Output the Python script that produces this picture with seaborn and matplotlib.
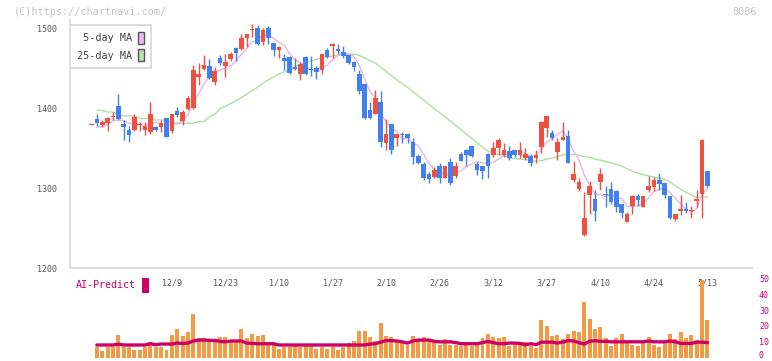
import numpy as np
import pandas as pd
import matplotlib
matplotlib.use("Agg")
import matplotlib.pyplot as plt
import matplotlib.transforms as mtransforms
from matplotlib.patches import Patch, Rectangle
import seaborn as sns

# ---------------- data ----------------
opens = [1379, 1386, 1379, 1381, 1389, 1403, 1380, 1373, 1372, 1379,
         1373, 1370, 1376, 1376, 1387, 1371, 1396, 1384, 1399, 1400,
         1439, 1449, 1453, 1433, 1463, 1452, 1461, 1475, 1474, 1487,
         1497, 1500, 1483, 1500, 1481, 1473, 1462, 1464, 1451, 1442,
         1464, 1449, 1450, 1447, 1472, 1477, 1474, 1470, 1466, 1458,
         1442, 1430, 1397, 1393, 1407, 1356, 1380, 1362, 1368, 1367,
         1357, 1340, 1330, 1318, 1314, 1328, 1313, 1332, 1315, 1342,
         1348, 1353, 1330, 1327, 1342, 1341, 1350, 1341, 1346, 1347,
         1341, 1338, 1340, 1337, 1351, 1375, 1369, 1345, 1360, 1365,
         1310, 1299, 1241, 1291, 1286, 1308, 1293, 1299, 1296, 1280,
         1258, 1277, 1290, 1276, 1298, 1301, 1310, 1306, 1290, 1261,
         1271, 1274, 1271, 1284, 1293, 1321]
highs = [1380, 1393, 1385, 1389, 1395, 1418, 1385, 1378, 1392, 1383,
         1382, 1407, 1377, 1385, 1388, 1393, 1401, 1397, 1415, 1454,
         1456, 1466, 1461, 1451, 1466, 1468, 1470, 1476, 1492, 1493,
         1505, 1504, 1500, 1503, 1481, 1477, 1468, 1465, 1462, 1458,
         1465, 1465, 1452, 1468, 1475, 1481, 1480, 1477, 1466, 1459,
         1448, 1430, 1408, 1423, 1421, 1386, 1380, 1368, 1370, 1369,
         1362, 1343, 1333, 1320, 1326, 1331, 1328, 1337, 1332, 1345,
         1349, 1353, 1333, 1328, 1344, 1357, 1363, 1356, 1352, 1348,
         1357, 1350, 1343, 1347, 1384, 1390, 1372, 1362, 1383, 1373,
         1334, 1312, 1295, 1309, 1297, 1325, 1302, 1307, 1297, 1280,
         1270, 1291, 1292, 1290, 1315, 1314, 1319, 1306, 1290, 1268,
         1291, 1282, 1278, 1297, 1361, 1321]
lows = [1379, 1378, 1376, 1371, 1385, 1385, 1360, 1357, 1371, 1371,
        1366, 1367, 1371, 1370, 1364, 1369, 1389, 1379, 1398, 1399,
        1429, 1447, 1436, 1429, 1454, 1439, 1459, 1459, 1472, 1476,
        1489, 1479, 1479, 1480, 1465, 1462, 1447, 1443, 1448, 1435,
        1441, 1440, 1436, 1442, 1463, 1462, 1468, 1463, 1455, 1446,
        1417, 1386, 1386, 1393, 1351, 1348, 1342, 1352, 1356, 1356,
        1330, 1330, 1310, 1306, 1312, 1306, 1312, 1304, 1312, 1334,
        1327, 1339, 1316, 1311, 1313, 1339, 1341, 1339, 1335, 1339,
        1338, 1335, 1328, 1331, 1344, 1364, 1360, 1335, 1360, 1331,
        1307, 1296, 1240, 1268, 1259, 1298, 1276, 1280, 1270, 1262,
        1258, 1268, 1278, 1276, 1295, 1296, 1298, 1287, 1261, 1259,
        1266, 1269, 1262, 1276, 1263, 1300]
closes = [1379, 1381, 1382, 1387, 1390, 1386, 1376, 1366, 1389, 1380,
          1378, 1392, 1372, 1381, 1364, 1392, 1391, 1395, 1413, 1447,
          1442, 1454, 1437, 1446, 1456, 1457, 1467, 1469, 1488, 1492,
          1498, 1480, 1497, 1487, 1473, 1476, 1459, 1444, 1449, 1455,
          1442, 1447, 1445, 1467, 1464, 1480, 1471, 1465, 1456, 1451,
          1421, 1388, 1388, 1413, 1357, 1368, 1348, 1367, 1366, 1362,
          1339, 1331, 1312, 1311, 1322, 1313, 1327, 1306, 1328, 1334,
          1341, 1340, 1323, 1321, 1327, 1350, 1360, 1347, 1337, 1341,
          1347, 1342, 1331, 1341, 1383, 1390, 1363, 1357, 1364, 1331,
          1317, 1307, 1263, 1303, 1271, 1317, 1291, 1282, 1276, 1269,
          1268, 1290, 1285, 1290, 1303, 1310, 1305, 1291, 1263, 1267,
          1274, 1271, 1273, 1286, 1360, 1302]

# moving-average values before the full window is available
ma5_head = [1376, 1377, 1379]
ma25_head = [1397, 1397, 1395, 1395, 1392, 1390, 1390, 1390, 1387, 1387,
             1387, 1385, 1385, 1385, 1381, 1381, 1381, 1381, 1381, 1383,
             1383, 1389, 1392]

# lower panel (sessions 1..115)
volume = [7, 4, 7, 7, 14.5, 7, 7, 4.6, 4.6, 7,
          10, 7, 6.5, 4.6, 14.5, 18, 13.8, 16.4, 27.6, 12.6,
          12.6, 10.5, 10.5, 13.2, 13.2, 10.8, 11.3, 18.2, 12.6, 15,
          13.8, 14.5, 8.2, 8.2, 5.7, 6.5, 7, 8.8, 6.8, 8,
          8.5, 5.5, 6.8, 5.5, 7, 4.9, 6.8, 9.5, 10.8, 17,
          17, 13.2, 10.7, 22, 13.8, 13, 10.4, 9, 8, 13.5,
          11.7, 12.9, 10.4, 10.4, 7.9, 11.7, 7.9, 7.9, 7.3, 9.2,
          7.3, 9.2, 12.3, 14.8, 12.9, 12.3, 12.9, 7.3, 9.2, 8.5,
          10, 7.3, 6.2, 23.6, 19.8, 13.5, 14.2, 11.7, 14.8, 16.6,
          16, 34.8, 24.6, 18.2, 19.4, 12.3, 7.3, 12.3, 14.8, 9.8,
          7.9, 7.3, 9.8, 12.9, 7.9, 6.6, 10.4, 14.8, 11.7, 16,
          12.3, 14.2, 11.1, 49.2, 23.6]
ai_predict = [8, 8, 8, 8, 8.5, 8, 8, 8, 8, 8,
              8.8, 8.2, 8.6, 8.6, 8.6, 9.2, 9, 9.2, 10.5, 11.1,
              11.1, 10.9, 10.9, 10.3, 10, 10.5, 10.5, 10.5, 9.2, 9,
              8.8, 8.8, 8.8, 8.8, 8, 8, 8, 8, 8, 8,
              8, 8, 8, 8, 8, 8, 8, 8, 8, 8,
              8, 8.6, 8.8, 9.8, 10.8, 10.8, 10.5, 10, 9.2, 10.5,
              11.1, 11.1, 11.1, 10.3, 10, 10, 10, 9.5, 8.8, 8.8,
              8.8, 8.8, 9.5, 10.2, 9.5, 8.8, 8.8, 9.2, 9.2, 9,
              8.2, 8.8, 8.2, 9.8, 9.8, 9.8, 9.2, 9.8, 10.8, 10.5,
              9.5, 8.6, 10.3, 10.7, 10.3, 10.3, 10, 10, 10, 10,
              10, 10, 10, 10.5, 10, 10, 10, 10.5, 10, 9,
              9, 9, 9.8, 9.8, 9.5]

tick_pos = [15, 25, 35, 45, 55, 65, 75, 85, 95, 105, 115]
tick_labels = ["12/9", "12/23", "1/10", "1/27", "2/10", "2/26",
               "3/12", "3/27", "4/10", "4/24", "5/13"]
price_ticks = [1200, 1300, 1400, 1500]
vol_ticks = [0, 10, 20, 30, 40, 50]

# ---------------- derived tables ----------------
n = len(closes)
df = pd.DataFrame({"i": np.arange(n), "open": opens, "high": highs,
                   "low": lows, "close": closes})
ma5 = df["close"].rolling(5).mean()
ma5.iloc[1:1 + len(ma5_head)] = ma5_head
ma25 = df["close"].rolling(25).mean()
ma25.iloc[1:1 + len(ma25_head)] = ma25_head
df["ma5"] = ma5
df["ma25"] = ma25
df.loc[0, ["ma5", "ma25"]] = np.nan

vdf = pd.DataFrame({"i": np.arange(1, 1 + len(volume)), "vol": volume,
                    "ai": ai_predict})

# ---------------- style ----------------
sns.set_style("white")
plt.rcParams["font.family"] = ["DejaVu Sans Mono", "DejaVu Sans"]

W, H = 772, 361
fig = plt.figure(figsize=(W / 100, H / 100), dpi=100)


def px_axes(l, t, r, b):
    return fig.add_axes([l / W, 1 - b / H, (r - l) / W, (b - t) / H])


ax = px_axes(70, 20, 752, 268)
ax2 = px_axes(70, 278.3, 752, 357.7)

x0, step = 91.5, 5.356
xlim = ((70 - x0) / step, (752 - x0) / step)

RED, BLUE = "#ef5040", "#4080ef"
up = df["close"] >= df["open"]
colors = np.where(up, RED, BLUE)

# MA lines (under candles)
sns.lineplot(data=df, x="i", y="ma25", ax=ax, color="#b5dca5", lw=1.0,
             zorder=1, legend=False)
sns.lineplot(data=df, x="i", y="ma5", ax=ax, color="#e9b3ec", lw=1.0,
             zorder=1, legend=False)

# candles
ax.vlines(df["i"], df["low"], df["high"], colors=colors, lw=1.0, zorder=2)
body_lo = np.minimum(df["open"], df["close"])
body_h = np.maximum(np.abs(df["close"] - df["open"]), 1.3)
ax.bar(df["i"], body_h, bottom=body_lo, width=0.86, color=colors,
       linewidth=0, zorder=3)

ax.set_xlim(*xlim)
ax.set_ylim(1200, 1510)
ax.set_xlabel("")
ax.set_ylabel("")

for s in ["top", "right"]:
    ax.spines[s].set_visible(False)
for s in ["left", "bottom"]:
    ax.spines[s].set_color("#e0e0e0")
    ax.spines[s].set_linewidth(1.4)

ax.set_yticks(price_ticks)
ax.set_yticklabels([str(v) for v in price_ticks])
ax.tick_params(axis="y", direction="inout", length=6, width=1.2,
               color="#dddddd", labelsize=6, labelcolor="#555555", pad=6)
ax.set_xticks(tick_pos)
ax.set_xticklabels(tick_labels)
ax.tick_params(axis="x", which="major", length=0, labelsize=6,
               labelcolor="#555555", pad=7.5)
ax.set_xticks(np.linspace(xlim[0], xlim[1], 12), minor=True)
ax.tick_params(axis="x", which="minor", direction="inout", length=7,
               width=1.2, color="#dddddd")
ax.grid(False)

# legend of moving averages
handles = [Patch(facecolor="#eebdf0", edgecolor="#555555", lw=1.0,
                 label=" 5-day MA"),
           Patch(facecolor="#bfe0b0", edgecolor="#555555", lw=1.0,
                 label="25-day MA")]
leg = ax.legend(handles=handles, loc="upper left", markerfirst=False,
                bbox_to_anchor=(70 / W, 1 - 25 / H),
                bbox_transform=fig.transFigure, borderaxespad=0,
                fancybox=False, framealpha=1, edgecolor="#dddddd",
                fontsize=7.3, handlelength=0.65, handleheight=1.45,
                handletextpad=0.6, labelspacing=0.55, borderpad=0.65)
leg.get_frame().set_linewidth(1.4)
for t in leg.get_texts():
    t.set_color("#444444")

# lower panel
ax2.bar(vdf["i"], vdf["vol"], width=0.74, color="#f39a45", linewidth=0,
        zorder=1)
sns.lineplot(data=vdf, x="i", y="ai", ax=ax2, color="#cc0066", lw=2.4,
             zorder=2, legend=False)
ax2.set_xlim(*xlim)
ax2.set_ylim(0, 50)
ax2.set_xlabel("")
ax2.set_ylabel("")
for s in ax2.spines.values():
    s.set_visible(False)
ax2.set_xticks([])
ax2.yaxis.tick_right()
ax2.set_yticks(vol_ticks)
ax2.set_yticklabels([str(v) for v in vol_ticks])
ax2.tick_params(axis="y", length=0, labelsize=6, labelcolor="#cc0066",
                pad=5)
# keep the "0" label inside the canvas
lab0 = ax2.get_yticklabels()[0]
lab0.set_transform(lab0.get_transform() +
                   mtransforms.ScaledTranslation(0, 2.5 / 72,
                                                 fig.dpi_scale_trans))
ax2.patch.set_alpha(0)
ax2.grid(False)

fig.text(76 / W, 1 - 285.5 / H, "AI-Predict", color="#cc0066",
         fontsize=7.2, va="center", ha="left")
fig.patches.append(Rectangle((142.3 / W, 1 - 293 / H), 6.5 / W, 15.5 / H,
                             transform=fig.transFigure, facecolor="#cc0066",
                             edgecolor="none"))

fig.text(14 / W, 1 - 12 / H, "(C)https://chartnavi.com/", color="#c4c4c4",
         fontsize=7.3, va="center", ha="left")
fig.text(757 / W, 1 - 12 / H, "8086", color="#c4c4c4", fontsize=7.3,
         va="center", ha="right")

fig.savefig("out.png", dpi=100, facecolor="white")
